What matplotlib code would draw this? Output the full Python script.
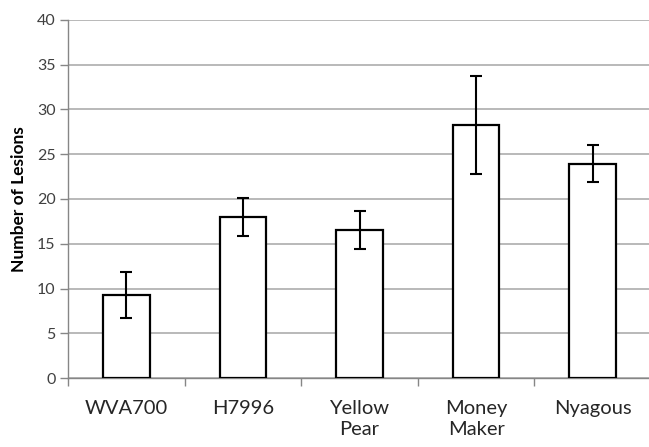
import numpy as np
import matplotlib
matplotlib.use("Agg")
import matplotlib.pyplot as plt

plt.rcParams['font.family'] = ['Lato', 'DejaVu Sans']

# lesion counts per tomato line
cultivars = ["WVA700", "H7996", "Yellow\nPear", "Money\nMaker", "Nyagous"]
lesions = [9.25, 18.0, 16.55, 28.25, 23.95]
errors = [2.55, 2.15, 2.15, 5.45, 2.1]
yticks = [0, 5, 10, 15, 20, 25, 30, 35, 40]

W, H = 649, 447
fig = plt.figure(figsize=(W / 100, H / 100), dpi=100)
ax = fig.add_axes([68 / W, 1 - 378 / H, (651 - 68) / W, (378 - 20) / H])

x = np.arange(len(cultivars))
ax.bar(x, lesions, width=0.4, color="white", edgecolor="black", linewidth=1.6, zorder=3)
ax.errorbar(x, lesions, yerr=errors, fmt="none", ecolor="black", elinewidth=1.5,
            capsize=4, capthick=1.5, zorder=4)

ax.set_xlim(-0.5, len(cultivars) - 0.5)
ax.set_ylim(0, 40)
ax.set_yticks(yticks)
ax.yaxis.grid(True, color="#a6a6a6", linewidth=1.1, zorder=0)
ax.set_axisbelow(True)

ax.set_xticks(x)
ax.set_xticklabels(cultivars, fontsize=14.5, color="#262626", linespacing=1.3)
ax.set_xticks(np.arange(len(cultivars) + 1) - 0.5, minor=True)
ax.tick_params(axis="x", which="major", length=0, pad=16)
ax.tick_params(axis="x", which="minor", length=6, width=1, color="#868686", direction="out")
ax.tick_params(axis="y", length=6, width=1, color="#868686", labelsize=11.5,
               labelcolor="#404040", pad=3)

for side in ["top", "right"]:
    ax.spines[side].set_visible(False)
for side in ["left", "bottom"]:
    ax.spines[side].set_color("#868686")
    ax.spines[side].set_linewidth(1)

ax.set_ylabel("Number of Lesions", fontsize=12.5, fontweight="bold", labelpad=7)

fig.savefig("out.png", dpi=100)
